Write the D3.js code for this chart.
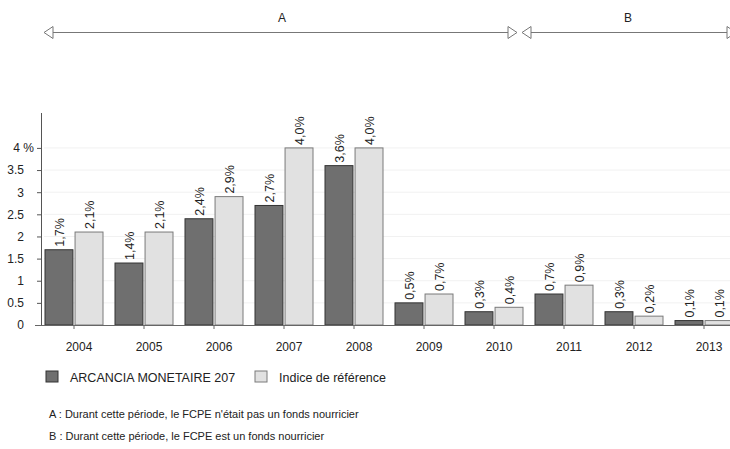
<!DOCTYPE html>
<html>
<head>
<meta charset="utf-8">
<script src="https://cdn.jsdelivr.net/npm/d3@7"></script>
<style>
  html, body { margin: 0; padding: 0; background: #fff; }
  svg { display: block; font-family: "Liberation Sans", Arial, sans-serif; }
</style>
</head>
<body>
<svg id="chart" width="730" height="449"></svg>
<script>
const years = ["2004","2005","2006","2007","2008","2009","2010","2011","2012","2013"];
const seriesNames = ["ARCANCIA MONETAIRE 207", "Indice de référence"];
const fundValues = [1.7, 1.4, 2.4, 2.7, 3.6, 0.5, 0.3, 0.7, 0.3, 0.1];
const indexValues = [2.1, 2.1, 2.9, 4.0, 4.0, 0.7, 0.4, 0.9, 0.2, 0.1];
const yTicks = [0, 0.5, 1, 1.5, 2, 2.5, 3, 3.5, 4];
const yTickLabels = ["0", "0.5", "1", "1.5", "2", "2.5", "3", "3.5", "4 %"];
const periodLabels = ["A", "B"];
const footnotes = [
  "A : Durant cette période, le FCPE n'était pas un fonds nourricier",
  "B : Durant cette période, le FCPE est un fonds nourricier"
];

const colors = ["#6f6f6f", "#e1e1e1"];
const strokes = ["#333", "#7a7a7a"];

const svg = d3.select("#chart");

const x = d3.scaleBand().domain(years).range([39, 739]).padding(0);
const x1 = d3.scaleBand().domain([0, 1]).range([6, 64]).paddingInner(0.07);
const y = d3.scaleLinear().domain([0, 4.8]).range([325, 112.5]);

// faint gridlines
svg.append("g").selectAll("line").data(yTicks.filter(d => d > 0)).join("line")
  .attr("x1", 44).attr("x2", 730)
  .attr("y1", d => y(d)).attr("y2", d => y(d))
  .attr("stroke", "#f1f1f1").attr("stroke-width", 1);

// bars
const data = years.map((yr, i) => ({ yr, vals: [fundValues[i], indexValues[i]] }));
const groups = svg.append("g").selectAll("g").data(data).join("g")
  .attr("transform", d => `translate(${x(d.yr)},0)`);

groups.selectAll("rect").data(d => d.vals.map((v, k) => ({ v, k }))).join("rect")
  .attr("x", d => x1(d.k))
  .attr("width", x1.bandwidth())
  .attr("y", d => y(d.v))
  .attr("height", d => y(0) - y(d.v))
  .attr("fill", d => colors[d.k])
  .attr("stroke", d => strokes[d.k])
  .attr("stroke-width", 1);

const fmt = v => d3.format(".1f")(v).replace(".", ",") + "%";
groups.selectAll("text").data(d => d.vals.map((v, k) => ({ v, k }))).join("text")
  .attr("transform", d => `translate(${x1(d.k) + x1.bandwidth() / 2 + 1},${y(d.v) - 3}) rotate(-90)`)
  .attr("text-anchor", "start")
  .attr("dominant-baseline", "central")
  .attr("font-size", 12.5)
  .attr("fill", "#222")
  .text(d => fmt(d.v));

// y axis
const yAxis = d3.axisLeft(y).tickValues(yTicks).tickSize(4).tickSizeOuter(0)
  .tickFormat((d, i) => yTickLabels[i]);
const gy = svg.append("g").attr("transform", "translate(41,0)").call(yAxis);
gy.select(".domain").attr("stroke", "#555");
gy.selectAll(".tick line").attr("stroke", "#555");
gy.selectAll(".tick text").attr("font-size", 12).attr("fill", "#222")
  .attr("font-family", "Liberation Sans, Arial, sans-serif")
  .attr("x", (d, i) => i === yTicks.length - 1 ? -7 : -17);

// x axis
const xAxis = d3.axisBottom(x).tickSize(4).tickSizeOuter(0).tickPadding(13);
const gx = svg.append("g").attr("transform", `translate(0,${y(0)})`).call(xAxis);
gx.select(".domain").attr("stroke", "#666").attr("d", "M35,0.5H740");
gx.selectAll(".tick line").attr("stroke", "#666");
gx.selectAll(".tick text").attr("font-size", 12).attr("fill", "#222")
  .attr("font-family", "Liberation Sans, Arial, sans-serif")
  .attr("dx", 5);

// period arrows
const arrowG = svg.append("g").attr("stroke", "#777").attr("fill", "#fff").attr("stroke-width", 1);
const ay = 32.5;
function leftHead(tx) {
  arrowG.append("path").attr("d", `M${tx},${ay} L${tx + 9},${ay - 6} L${tx + 9},${ay + 6} Z`);
}
function rightHead(tx) {
  arrowG.append("path").attr("d", `M${tx},${ay} L${tx - 9},${ay - 6} L${tx - 9},${ay + 6} Z`);
}
arrowG.append("line").attr("x1", 53).attr("x2", 508).attr("y1", ay).attr("y2", ay);
arrowG.append("line").attr("x1", 531).attr("x2", 727).attr("y1", ay).attr("y2", ay);
leftHead(44); rightHead(517); leftHead(522); rightHead(736);

svg.append("text").attr("x", 282).attr("y", 22).attr("text-anchor", "middle")
  .attr("font-size", 12).attr("fill", "#222").text(periodLabels[0]);
svg.append("text").attr("x", 628).attr("y", 22).attr("text-anchor", "middle")
  .attr("font-size", 12).attr("fill", "#222").text(periodLabels[1]);

// legend
const leg = svg.append("g").attr("transform", "translate(46,371)");
const legX = [0, 209];
seriesNames.forEach((name, k) => {
  leg.append("rect").attr("x", legX[k]).attr("y", 0).attr("width", 12).attr("height", 11)
    .attr("fill", colors[k]).attr("stroke", strokes[k]);
  leg.append("text").attr("x", legX[k] + 24).attr("y", 10.5)
    .attr("font-size", 12.5).attr("fill", "#222").text(name);
});

// footnotes
svg.selectAll(".fn").data(footnotes).join("text").attr("class", "fn")
  .attr("x", 49).attr("y", (d, i) => 418 + i * 22)
  .attr("font-size", 11).attr("fill", "#222").text(d => d);
</script>
</body>
</html>
